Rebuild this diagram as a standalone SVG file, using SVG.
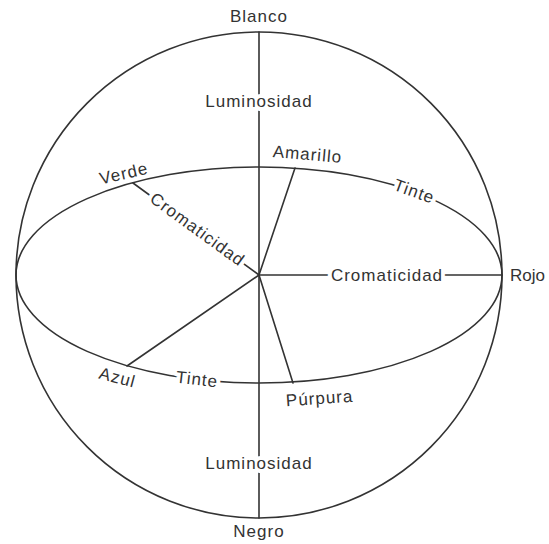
<svg xmlns="http://www.w3.org/2000/svg" width="549" height="544" viewBox="0 0 549 544">
<style>
.ln{fill:none;stroke:#333;stroke-width:1.6;stroke-linecap:round}
.t{font-family:"Liberation Sans",Arial,sans-serif;font-size:17px;fill:#333;letter-spacing:1px;text-anchor:middle}
.h{stroke:#fff;stroke-width:8;stroke-linejoin:round;paint-order:stroke}
</style>
<rect width="549" height="544" fill="#fff"/>
<g id="connectors">
<circle class="ln" cx="259" cy="275" r="243"/>
<ellipse class="ln" cx="259" cy="275" rx="243" ry="108"/>
<line class="ln" x1="259" y1="32" x2="259" y2="518"/>
<line class="ln" x1="259" y1="275" x2="502" y2="275"/>
<line class="ln" x1="259" y1="275" x2="295" y2="168"/>
<line class="ln" x1="259" y1="275" x2="293" y2="383"/>
<line class="ln" x1="259" y1="275" x2="133" y2="183"/>
<line class="ln" x1="259" y1="275" x2="127" y2="366"/>
</g>
<g id="blanco"><text class="t" x="259" y="22">Blanco</text></g>
<g id="negro"><text class="t" x="259" y="537">Negro</text></g>
<g id="lum-top"><text class="t h" x="259" y="107">Luminosidad</text></g>
<g id="lum-bottom"><text class="t h" x="259" y="469">Luminosidad</text></g>
<g id="rojo"><text class="t" x="510" y="281" style="text-anchor:start;letter-spacing:0">Rojo</text></g>
<g id="croma-rojo"><text class="t h" x="387" y="281">Cromaticidad</text></g>
<g id="croma-verde"><text class="t h" transform="translate(197,230) rotate(36)" x="0" y="5">Cromaticidad</text></g>
<g id="amarillo"><text class="t" transform="translate(307,160) rotate(5)" x="0" y="0">Amarillo</text></g>
<g id="verde"><text class="t" transform="translate(125,179) rotate(-13)" x="0" y="0">Verde</text></g>
<g id="tinte-top"><text class="t h" transform="translate(414,192) rotate(20)" x="0" y="5">Tinte</text></g>
<g id="tinte-bottom"><text class="t h" transform="translate(197,380) rotate(6.7)" x="0" y="5">Tinte</text></g>
<g id="azul"><text class="t" transform="translate(116,383) rotate(15)" x="0" y="0">Azul</text></g>
<g id="purpura"><text class="t" transform="translate(320,404) rotate(-4)" x="0" y="0">Púrpura</text></g>
</svg>
